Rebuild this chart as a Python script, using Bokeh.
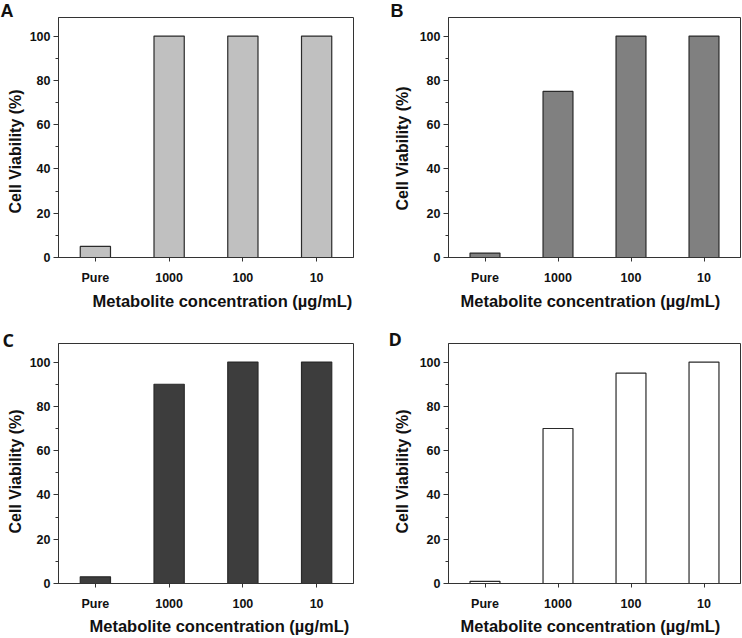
from bokeh.plotting import figure
from bokeh.layouts import column, row
from bokeh.models import Label, Title, SingleIntervalTicker, Range1d, ColumnDataSource
from bokeh.embed import file_html
from bokeh.resources import INLINE

# ---- data ----
categories = ["Pure", "1000", "100", "10"]
viability_A = [5, 100, 100, 100]
viability_B = [2, 75, 100, 100]
viability_C = [3, 90, 100, 100]
viability_D = [1, 70, 95, 100]
panel_letters = ["A", "B", "C", "D"]
bar_colors = ["#c0c0c0", "#808080", "#3d3d3d", "#ffffff"]
x_title = "Metabolite concentration (\u00b5g/mL)"
y_title = "Cell Viability (%)"

FIG_W, FIG_H = 371, 319
Y_MAX = 108.4
LINE = "#333333"
TXT = "#111111"

# panel geometry: (min_border_left, right, top, bottom)
geoms = {
    "A": (58, 18, 17, 62),
    "B": (77, 2, 17, 62),
    "C": (58, 18, 24, 53),
    "D": (77, 2, 24, 53),
}
ytitle_cfg = {"A": (44, 3), "B": (47, 10), "C": (50, 3), "D": (50, 10)}     # offset, standoff
xtitle_cfg = {"A": (34, 6), "B": (12, 6), "C": (31, 5), "D": (12, 5)}       # offset, standoff
letter_side = {"A": "right", "B": "left", "C": "right", "D": "left"}
letter_xy = {"A": (-353, 247), "B": (16, 247), "C": (-351, 244), "D": (14, 245)}
letter_fonts = {"A": "Liberation Sans", "B": "Liberation Sans", "C": "Open Sans", "D": "Open Sans"}


def make_panel(key, values, color):
    bl, br, bt, bb = geoms[key]
    p = figure(width=FIG_W, height=FIG_H, x_range=categories,
               y_range=Range1d(0, Y_MAX), output_backend="svg",
               toolbar_location=None, min_border_left=bl, min_border_right=br,
               min_border_top=bt, min_border_bottom=bb)
    p.background_fill_color = "white"
    p.border_fill_color = "white"
    p.outline_line_color = LINE
    p.outline_line_width = 1
    p.xgrid.grid_line_color = None
    p.ygrid.grid_line_color = None

    src = ColumnDataSource(dict(cat=categories, val=values))
    p.vbar(x="cat", top="val", width=0.41, source=src, fill_color=color,
           line_color="#2a2a2a", line_width=1.2)

    p.yaxis.ticker = SingleIntervalTicker(interval=20, num_minor_ticks=2)
    for ax in (p.xaxis[0], p.yaxis[0]):
        ax.axis_line_color = LINE
        ax.major_tick_line_color = LINE
        ax.minor_tick_line_color = LINE
        ax.major_tick_in = 0
        ax.minor_tick_in = 0
        ax.major_label_text_font = "Liberation Sans"
        ax.major_label_text_font_style = "bold"
        ax.major_label_text_font_size = "12.5px"
        ax.major_label_text_color = TXT
    p.yaxis.major_tick_out = 5
    p.yaxis.minor_tick_out = 3
    p.yaxis.major_label_standoff = 3
    p.xaxis.major_tick_out = 4
    p.xaxis.major_label_standoff = 9
    p.xaxis.major_label_orientation = "horizontal"

    yoff, ystand = ytitle_cfg[key]
    p.add_layout(Title(text=y_title, align="left", offset=yoff, standoff=ystand,
                       vertical_align="middle", text_font="Liberation Sans",
                       text_font_style="bold", text_font_size="16px",
                       text_color=TXT), "left")
    xoff, xstand = xtitle_cfg[key]
    p.add_layout(Title(text=x_title, align="left", offset=xoff, standoff=xstand,
                       vertical_align="middle", text_font="Liberation Sans",
                       text_font_style="bold", text_font_size="16.5px",
                       text_color=TXT), "below")
    lx, ly = letter_xy[key]
    p.add_layout(Label(x=lx, y=ly, x_units="screen", y_units="screen",
                       text=panel_letters["ABCD".index(key)],
                       text_font=letter_fonts[key], text_font_style="bold",
                       text_font_size="18px", text_color=TXT,
                       text_align="left", text_baseline="alphabetic"),
                 letter_side[key])
    return p


pA = make_panel("A", viability_A, bar_colors[0])
pB = make_panel("B", viability_B, bar_colors[1])
pC = make_panel("C", viability_C, bar_colors[2])
pD = make_panel("D", viability_D, bar_colors[3])

layout = column(row(pA, pB), row(pC, pD))
open("out.html", "w").write(file_html(layout, INLINE))
